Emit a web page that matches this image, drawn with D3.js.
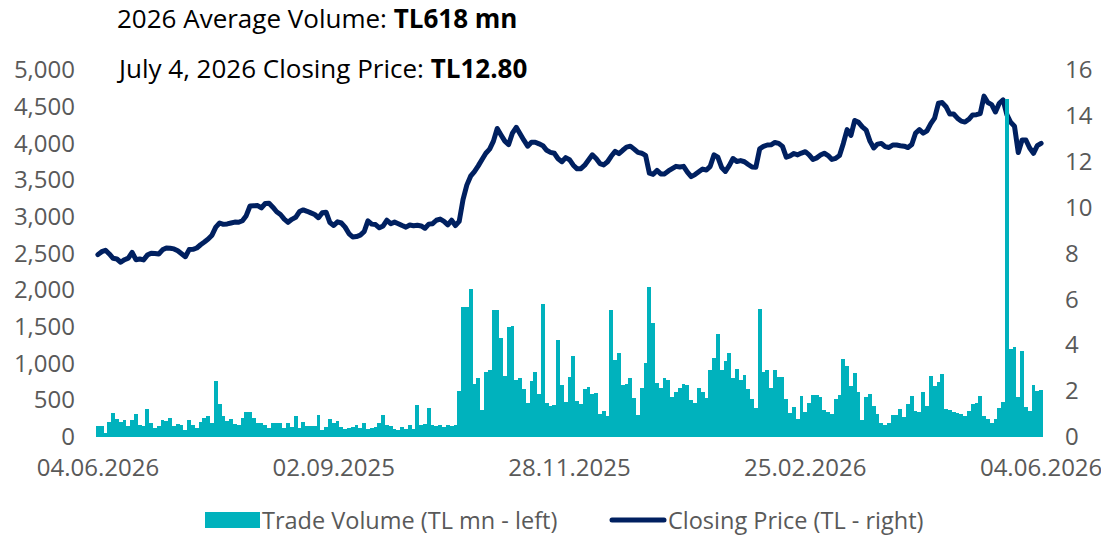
<!DOCTYPE html>
<html>
<head>
<meta charset="utf-8">
<script src="https://cdn.jsdelivr.net/npm/d3@7"></script>
<style>
  html, body { margin: 0; padding: 0; background: #ffffff; }
  svg { display: block; font-family: "Open Sans", "Noto Sans", sans-serif; }
</style>
</head>
<body>
<svg id="chart" width="1101" height="537"></svg>
<script>
// Daily trade volume (TL mn), one value per trading day
const volume = [
  145, 145, 50, 205, 322, 250, 210, 232, 150, 227,
  318, 168, 155, 386, 191, 123, 145, 227, 213, 263,
  150, 173, 159, 95, 236, 159, 127, 209, 259, 282,
  191, 758, 450, 282, 213, 250, 182, 164, 259, 345,
  345, 263, 186, 186, 168, 118, 191, 191, 191, 118,
  191, 141, 282, 127, 205, 150, 150, 155, 300, 95,
  132, 250, 195, 223, 141, 109, 118, 132, 168, 123,
  186, 114, 123, 136, 195, 295, 159, 155, 104, 95,
  136, 114, 168, 114, 431, 168, 173, 395, 159, 155,
  159, 141, 168, 150, 168, 627, 1776, 1776, 2012, 727,
  808, 363, 886, 908, 1730, 1730, 1353, 831, 1499, 1517,
  777, 808, 649, 468, 763, 886, 590, 1812, 468, 422,
  440, 1326, 704, 481, 817, 1099, 490, 445, 649, 686,
  581, 604, 309, 354, 286, 1730, 1049, 1140, 704, 727,
  799, 536, 300, 672, 1013, 2039, 1549, 731, 663, 808,
  777, 550, 613, 663, 727, 704, 500, 459, 672, 618,
  536, 908, 1081, 1399, 908, 1035, 1149, 808, 922, 777,
  840, 649, 513, 400,
  1748, 886, 913, 672, 913, 822, 817, 513, 322, 409,
  250, 559, 341, 468, 568, 568, 545, 363, 341, 318,
  522, 568, 1067, 967, 695, 876, 613, 232, 545, 581,
  422, 309, 186, 164, 195, 300, 295, 377, 268, 454,
  559, 354, 341, 613, 422, 831, 695, 754, 863, 377,
  363, 341, 332, 318, 286, 354, 454, 468, 559, 286,
  241, 195, 250, 400, 481, 4600, 1194, 1231, 550, 1172,
  409, 354, 704, 627, 640
];

// Daily closing price (TL), same trading days
const closePrice = [
  7.95, 8.08, 8.14, 7.98, 7.79, 7.76, 7.62, 7.73, 7.80, 8.05,
  7.73, 7.76, 7.72, 7.93, 8.01, 8.00, 7.98, 8.16, 8.24, 8.23,
  8.20, 8.12, 7.99, 7.86, 8.17, 8.18, 8.24, 8.38, 8.50, 8.63,
  8.80, 9.15, 9.33, 9.27, 9.29, 9.33, 9.37, 9.36, 9.43, 9.65,
  10.07, 10.08, 10.09, 9.99, 10.18, 10.19, 10.02, 9.82, 9.70, 9.50,
  9.36, 9.49, 9.58, 9.83, 9.90, 9.84, 9.77, 9.70, 9.56, 9.78,
  9.80, 9.35, 9.22, 9.38, 9.33, 9.15, 8.87, 8.72, 8.74, 8.80,
  8.95, 9.42, 9.28, 9.26, 9.12, 9.20, 9.45, 9.30, 9.37, 9.30,
  9.22, 9.15, 9.24, 9.21, 9.23, 9.20, 9.10, 9.28, 9.30, 9.45,
  9.50, 9.40, 9.25, 9.45, 9.22, 9.40, 10.35, 10.98, 11.37, 11.57,
  11.82, 12.10, 12.37, 12.55, 12.90, 13.45, 13.17, 12.90, 12.75, 13.25,
  13.50, 13.22, 12.94, 12.68, 12.85, 12.85, 12.78, 12.70, 12.50, 12.41,
  12.37, 12.13, 12.00, 12.18, 12.09, 11.85, 11.69, 11.70, 11.85, 12.08,
  12.30, 12.14, 11.92, 11.86, 12.00, 12.25, 12.45, 12.35, 12.50, 12.64,
  12.68, 12.55, 12.41, 12.37, 12.28, 11.50, 11.45, 11.62, 11.47, 11.47,
  11.60, 11.70, 11.80, 11.77, 11.80, 11.55, 11.35, 11.44, 11.56, 11.68,
  11.64, 11.80, 12.30, 12.20, 11.75, 11.58, 11.83, 12.14, 12.01, 12.05,
  12.00, 11.88, 11.77, 11.76, 12.56, 12.67, 12.73, 12.74, 12.84, 12.80,
  12.67, 12.20, 12.26, 12.36, 12.30, 12.38, 12.44, 12.30, 12.10, 12.17,
  12.29, 12.37, 12.27, 12.10, 12.15, 12.27, 12.80, 13.40, 13.15, 13.80,
  13.72, 13.52, 13.38, 12.90, 12.60, 12.77, 12.80, 12.66, 12.62, 12.73,
  12.73, 12.70, 12.68, 12.62, 12.75, 13.25, 13.40, 13.25, 13.35, 13.66,
  13.90, 14.55, 14.58, 14.40, 14.08, 14.08, 13.90, 13.77, 13.73, 13.85,
  14.04, 14.05, 14.10, 14.86, 14.58, 14.49, 14.17, 14.55, 14.70, 14.05,
  13.72, 13.55, 12.40, 12.95, 12.95, 12.60, 12.37, 12.70, 12.80
];

const tradingDays = volume.map((_, i) => i);

// Date labels along the bottom and the trading day each one sits on
const xTickLabels = ["04.06.2026", "02.09.2025", "28.11.2025", "25.02.2026", "04.06.2026"];
const xTickDays = [0, 62, 124, 186, 248];

const volumeTicks = [0, 500, 1000, 1500, 2000, 2500, 3000, 3500, 4000, 4500, 5000];
const priceTicks = [0, 2, 4, 6, 8, 10, 12, 14, 16];

const BAR_COLOR = "#00b2bd";
const LINE_COLOR = "#002060";
const TICK_COLOR = "#595959";
const FONT = "'Open Sans', 'Noto Sans', sans-serif";

const svg = d3.select("#chart");
const plot = { left: 96, right: 1043, top: 70, bottom: 437 };

const x = d3.scaleBand()
  .domain(tradingDays)
  .range([plot.left, plot.right])
  .paddingInner(0);

const yVol = d3.scaleLinear().domain([0, 5000]).range([plot.bottom, plot.top]);
const yPrice = d3.scaleLinear().domain([0, 16]).range([plot.bottom, plot.top]);

// Axes
const leftAxis = svg.append("g")
  .attr("transform", `translate(${plot.left - 14},0)`)
  .call(d3.axisLeft(yVol).tickValues(volumeTicks).tickFormat(d3.format(",")).tickSize(0).tickPadding(7));

const rightAxis = svg.append("g")
  .attr("transform", `translate(${plot.right + 16},0)`)
  .call(d3.axisRight(yPrice).tickValues(priceTicks).tickSize(0).tickPadding(6));

const bottomAxis = svg.append("g")
  .attr("transform", `translate(0,${plot.bottom})`)
  .call(d3.axisBottom(x).tickValues(xTickDays).tickFormat((d, i) => xTickLabels[i]).tickSize(0).tickPadding(22));

[leftAxis, rightAxis, bottomAxis].forEach(g => {
  g.select(".domain").remove();
  g.selectAll("text")
    .attr("fill", TICK_COLOR)
    .style("font-size", "24px")
    .style("font-family", FONT);
});

// Closing price line
const line = d3.line()
  .x((d, i) => x(tradingDays[i]) + x.bandwidth() / 2)
  .y(d => yPrice(d));

svg.append("path")
  .datum(closePrice)
  .attr("fill", "none")
  .attr("stroke", LINE_COLOR)
  .attr("stroke-width", 5)
  .attr("stroke-linejoin", "round")
  .attr("stroke-linecap", "round")
  .attr("d", line);

// Volume bars
svg.append("g")
  .attr("shape-rendering", "crispEdges")
  .selectAll("rect")
  .data(volume)
  .join("rect")
  .attr("x", (d, i) => x(tradingDays[i]))
  .attr("width", x.bandwidth())
  .attr("y", d => yVol(d))
  .attr("height", d => yVol(0) - yVol(d))
  .attr("fill", BAR_COLOR);

// Headline figures
const headlines = [
  { label: "2026 Average Volume: ", value: "TL618 mn", x: 117, y: 28 },
  { label: "July 4, 2026 Closing Price: ", value: "TL12.80", x: 119, y: 78 }
];
headlines.forEach(h => {
  const t = svg.append("text")
    .attr("x", h.x).attr("y", h.y)
    .attr("fill", "#000000")
    .style("font-family", FONT)
    .style("font-size", "26px");
  t.append("tspan").text(h.label);
  t.append("tspan").attr("font-weight", "bold").text(h.value);
});

// Legend
const legend = svg.append("g")
  .style("font-family", FONT)
  .style("font-size", "23.5px")
  .attr("fill", TICK_COLOR);
legend.append("rect")
  .attr("x", 205).attr("y", 512).attr("width", 55).attr("height", 16)
  .attr("fill", BAR_COLOR);
legend.append("text").attr("x", 262).attr("y", 529).text("Trade Volume (TL mn - left)");
legend.append("line")
  .attr("x1", 612).attr("x2", 664).attr("y1", 520).attr("y2", 520)
  .attr("stroke", LINE_COLOR).attr("stroke-width", 5).attr("stroke-linecap", "round");
legend.append("text").attr("x", 668).attr("y", 529).text("Closing Price (TL - right)");
</script>
</body>
</html>
